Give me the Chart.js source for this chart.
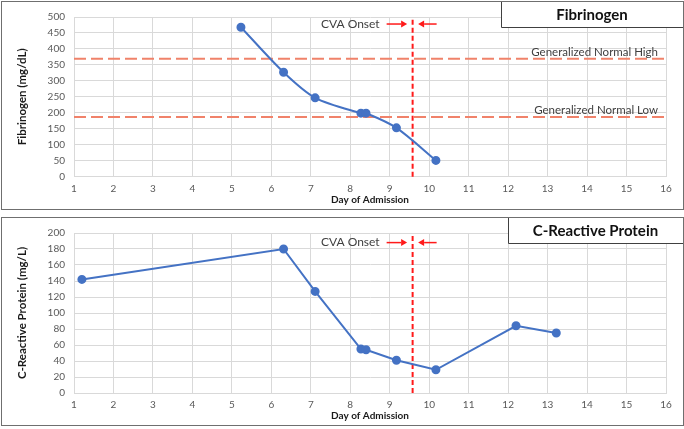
<!DOCTYPE html>
<html>
<head>
<meta charset="utf-8">
<script src="https://cdn.jsdelivr.net/npm/chart.js@4.4.1/dist/chart.umd.min.js"></script>
<style>
  body { margin: 0; background: #fff; width: 684px; height: 429px; overflow: hidden; position: relative; }
  .box { position: absolute; left: 1px; width: 681px; height: 207px; border: 1px solid #6f6f6f; }
  #b1 { top: 1px; }
  #b2 { top: 217px; }
  canvas { display: block; }
</style>
</head>
<body>
<div class="box" id="b1"><canvas id="c1" width="681" height="207"></canvas></div>
<div class="box" id="b2"><canvas id="c2" width="681" height="207"></canvas></div>
<script>
// day of admission and values
const fibDays = [5.23, 6.31, 7.11, 8.27, 8.40, 9.17, 10.17];
const fibValues = [468, 327, 247, 199, 199, 153, 51];
const fibNormalHigh = 369;
const fibNormalLow = 187;

const crpDays = [1.2, 6.31, 7.11, 8.27, 8.40, 9.17, 10.17, 12.2, 13.22];
const crpValues = [142, 180, 127, 55, 54, 41, 29, 84, 75];

const cvaOnsetDay = 9.58;
const dayTicks = [1, 16];          // x axis range
const fibTicks = [0, 500, 50];     // min, max, step
const crpTicks = [0, 200, 20];

const FONT = 'Lato, "Open Sans", sans-serif';
const BLUE = '#4472C4';
const SALMON = '#F0826A';
const RED = '#FF1A1A';

function pts(xs, ys) {
  return xs.map((x, i) => ({ x: x, y: ys[i] }));
}

function drawArrow(ctx, x1, x2, y) {
  const dir = x2 > x1 ? 1 : -1;
  const head = 6;
  ctx.beginPath();
  ctx.moveTo(x1, y);
  ctx.lineTo(x2 - dir * head, y);
  ctx.stroke();
  ctx.beginPath();
  ctx.moveTo(x2, y);
  ctx.lineTo(x2 - dir * head, y - 3.5);
  ctx.lineTo(x2 - dir * head, y + 3.5);
  ctx.closePath();
  ctx.fill();
}

// texts, arrows and title box on top of the plot
const notes = {
  id: 'notes',
  afterDraw(chart, args, o) {
    const ctx = chart.ctx;
    const xs = chart.scales.x, ys = chart.scales.y;
    ctx.save();
    // reference line labels
    ctx.font = '11.5px ' + FONT;
    ctx.fillStyle = '#404040';
    ctx.textAlign = 'right';
    ctx.textBaseline = 'middle';
    (o.refLabels || []).forEach(r => {
      ctx.fillText(r.text, xs.right - 8, ys.getPixelForValue(r.value) - 7);
    });
    // CVA onset
    const lx = xs.getPixelForValue(cvaOnsetDay);
    const ty = ys.getPixelForValue(o.onsetLabelValue);
    ctx.font = '12px ' + FONT;
    ctx.fillText('CVA Onset', lx - 33, ty);
    ctx.strokeStyle = RED;
    ctx.fillStyle = RED;
    ctx.lineWidth = 1.5;
    drawArrow(ctx, lx - 26, lx - 5.5, ty);
    drawArrow(ctx, lx + 24, lx + 5.5, ty);
    // title box
    ctx.fillStyle = '#fff';
    ctx.fillRect(o.boxLeft, -1, chart.width - o.boxLeft + 2, o.boxHeight);
    ctx.strokeStyle = '#404040';
    ctx.lineWidth = 1;
    ctx.beginPath();
    ctx.moveTo(o.boxLeft + 0.5, 0);
    ctx.lineTo(o.boxLeft + 0.5, o.boxHeight - 0.5);
    ctx.lineTo(chart.width, o.boxHeight - 0.5);
    ctx.stroke();
    ctx.fillStyle = '#111';
    ctx.textAlign = 'center';
    ctx.font = 'bold 15px ' + FONT;
    ctx.fillText(o.title, (o.boxLeft + chart.width) / 2, o.boxHeight / 2);
    ctx.restore();
  }
};

function makeChart(id, cfg) {
  const refSets = cfg.refs.map(r => ({
    data: [{ x: dayTicks[0], y: r.value }, { x: dayTicks[1], y: r.value }],
    borderColor: SALMON, borderWidth: 2, borderDash: [12, 5],
    pointRadius: 0, clip: false
  }));
  new Chart(document.getElementById(id), {
    type: 'line',
    data: {
      datasets: [
        {
          data: pts(cfg.days, cfg.values),
          borderColor: BLUE, backgroundColor: BLUE,
          borderWidth: 2, pointRadius: 3.5, pointHoverRadius: 3.5,
          tension: cfg.tension, clip: false
        },
        {
          data: [{ x: cvaOnsetDay, y: cfg.ticks[0] }, { x: cvaOnsetDay, y: cfg.ticks[1] }],
          borderColor: RED, borderWidth: 2, borderDash: [5, 3],
          pointRadius: 0, clip: false
        }
      ].concat(refSets)
    },
    options: {
      responsive: false,
      animation: false,
      layout: { padding: { top: cfg.padTop, right: 17, left: 0, bottom: 0 } },
      plugins: {
        legend: { display: false },
        tooltip: { enabled: false },
        notes: {
          title: cfg.title, boxLeft: cfg.boxLeft, boxHeight: cfg.boxHeight,
          onsetLabelValue: cfg.onsetLabelValue,
          refLabels: cfg.refs
        }
      },
      scales: {
        x: {
          type: 'linear', min: dayTicks[0], max: dayTicks[1],
          afterFit: s => { s.height = 207 - cfg.plotBottom; },
          ticks: { stepSize: 1, color: '#595959', padding: 6, font: { family: FONT, size: 10 } },
          grid: { color: '#d9d9d9', drawTicks: false },
          border: { color: '#d9d9d9' },
          title: {
            display: true, text: 'Day of Admission', color: '#1a1a1a',
            font: { family: FONT, size: 10, weight: 'bold' },
            padding: { top: 0, bottom: 3 }
          }
        },
        y: {
          min: cfg.ticks[0], max: cfg.ticks[1],
          afterFit: s => { s.width = 72; },
          ticks: { stepSize: cfg.ticks[2], color: '#595959', padding: 9, font: { family: FONT, size: 10 } },
          grid: { color: '#d9d9d9', drawTicks: false },
          border: { color: '#d9d9d9' },
          title: {
            display: true, text: cfg.yTitle, color: '#1a1a1a',
            font: { family: FONT, size: 11.5, weight: 'bold' },
            padding: { top: 13, bottom: 0 }
          }
        }
      }
    },
    plugins: [notes]
  });
}

makeChart('c1', {
  days: fibDays, values: fibValues, ticks: fibTicks, tension: 0.3,
  yTitle: 'Fibrinogen (mg/dL)', title: 'Fibrinogen',
  refs: [
    { value: fibNormalHigh, text: 'Generalized Normal High' },
    { value: fibNormalLow, text: 'Generalized Normal Low' }
  ],
  padTop: 9.7, plotBottom: 174.7,
  boxLeft: 499, boxHeight: 26, onsetLabelValue: 478
});

makeChart('c2', {
  days: crpDays, values: crpValues, ticks: crpTicks, tension: 0,
  yTitle: 'C-Reactive Protein (mg/L)', title: 'C-Reactive Protein',
  refs: [],
  padTop: 10, plotBottom: 175,
  boxLeft: 506, boxHeight: 26, onsetLabelValue: 188
});
</script>
</body>
</html>
